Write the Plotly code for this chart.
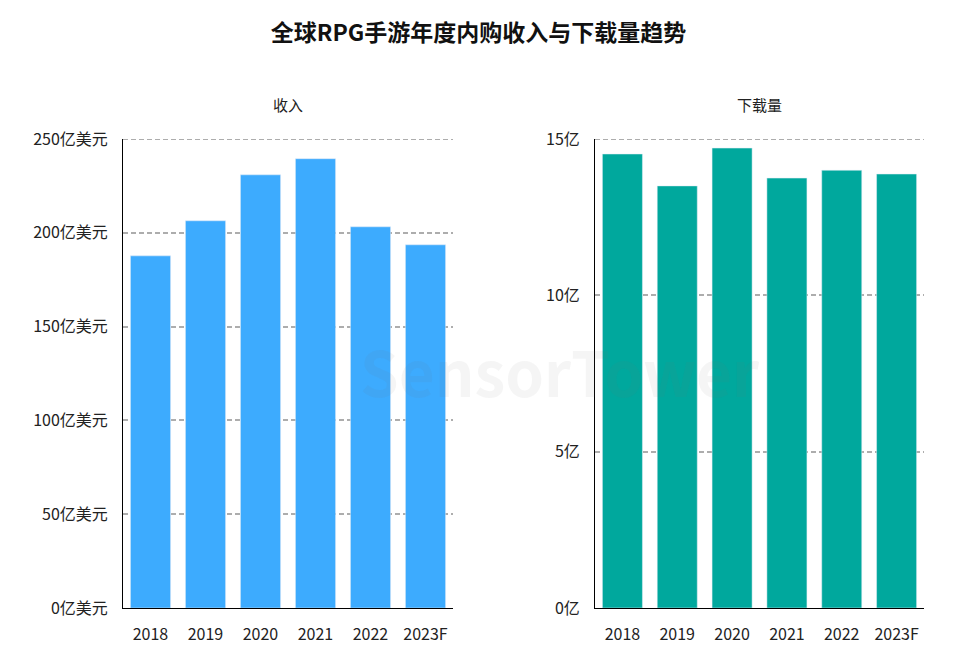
import plotly.graph_objects as go

years = ["2018", "2019", "2020", "2021", "2022", "2023F"]
revenue = [187.7, 206.4, 230.9, 239.5, 203.2, 193.6]   # 亿美元
downloads = [14.52, 13.5, 14.71, 13.75, 14.0, 13.88]   # 亿
rev_ticks = [0, 50, 100, 150, 200, 250]
rev_tick_text = ["0亿美元", "50亿美元", "100亿美元", "150亿美元", "200亿美元", "250亿美元"]
dl_ticks = [0, 5, 10, 15]
dl_tick_text = ["0亿", "5亿", "10亿", "15亿"]

FONT = "Noto Sans CJK SC"
GRID = "#adadad"
DASH = "5px,3px"
fig = go.Figure()
fig.add_trace(go.Bar(x=years, y=revenue, marker_color="#3DABFE", xaxis="x", yaxis="y",
                     hoverinfo="x+y"))
fig.add_trace(go.Bar(x=years, y=downloads, marker_color="#00A89D", xaxis="x2", yaxis="y2",
                     hoverinfo="x+y"))

d1 = 330 / 801
d2 = 472 / 801
axis_common = dict(showline=True, linecolor="#000000", linewidth=1,
                   tickfont=dict(family=FONT, size=16, color="#222222"))
grid_common = dict(showgrid=True, gridcolor=GRID, griddash=DASH, gridwidth=2,
                   zeroline=False, ticks="", ticklabelstandoff=11)
shapes = [
    dict(type="line", xref="x domain", yref="y", x0=0, x1=1, y0=rev_ticks[-1], y1=rev_ticks[-1],
         line=dict(color=GRID, width=2, dash=DASH), layer="below"),
    dict(type="line", xref="x2 domain", yref="y2", x0=0, x1=1, y0=dl_ticks[-1], y1=dl_ticks[-1],
         line=dict(color=GRID, width=2, dash=DASH), layer="below"),
]
sub_y = (666 - 58 - 104) / (666 - 139 - 58)
fig.update_layout(
    width=957, height=666,
    margin=dict(l=123, r=33, t=139, b=58),
    paper_bgcolor="white", plot_bgcolor="white",
    showlegend=False, bargap=0.27,
    font=dict(family=FONT),
    title=dict(text="<b>全球RPG手游年度内购收入与下载量趋势</b>", x=0.5, xanchor="center",
               y=1 - 33 / 666, yanchor="middle",
               font=dict(family=FONT, size=23, color="#111111")),
    xaxis=dict(domain=[0, d1], anchor="y", ticks="", ticklabelstandoff=12, **axis_common),
    xaxis2=dict(domain=[d2, 1], anchor="y2", ticks="", ticklabelstandoff=12, **axis_common),
    yaxis=dict(domain=[0, 1], anchor="x", range=[0, 250], tickvals=rev_ticks, ticktext=rev_tick_text,
               **grid_common, **axis_common),
    yaxis2=dict(domain=[0, 1], anchor="x2", range=[0, 15], tickvals=dl_ticks, ticktext=dl_tick_text,
                **grid_common, **axis_common),
    shapes=shapes,
    annotations=[
        dict(text="收入", x=d1 / 2, xref="paper", y=sub_y, yref="paper",
             showarrow=False, xanchor="center", yanchor="middle",
             font=dict(family=FONT, size=15, color="#222222")),
        dict(text="下载量", x=(d2 + 1) / 2, xref="paper", y=sub_y, yref="paper",
             showarrow=False, xanchor="center", yanchor="middle",
             font=dict(family=FONT, size=15, color="#222222")),
        dict(text="<b>SensorTower</b>", x=(560 - 123) / 801, xref="paper", y=(608 - 370) / 469, yref="paper",
             showarrow=False, xanchor="center", yanchor="middle",
             font=dict(family=FONT, size=62, color="rgba(120,120,120,0.07)")),
    ],
)
fig.write_html("out.html")
